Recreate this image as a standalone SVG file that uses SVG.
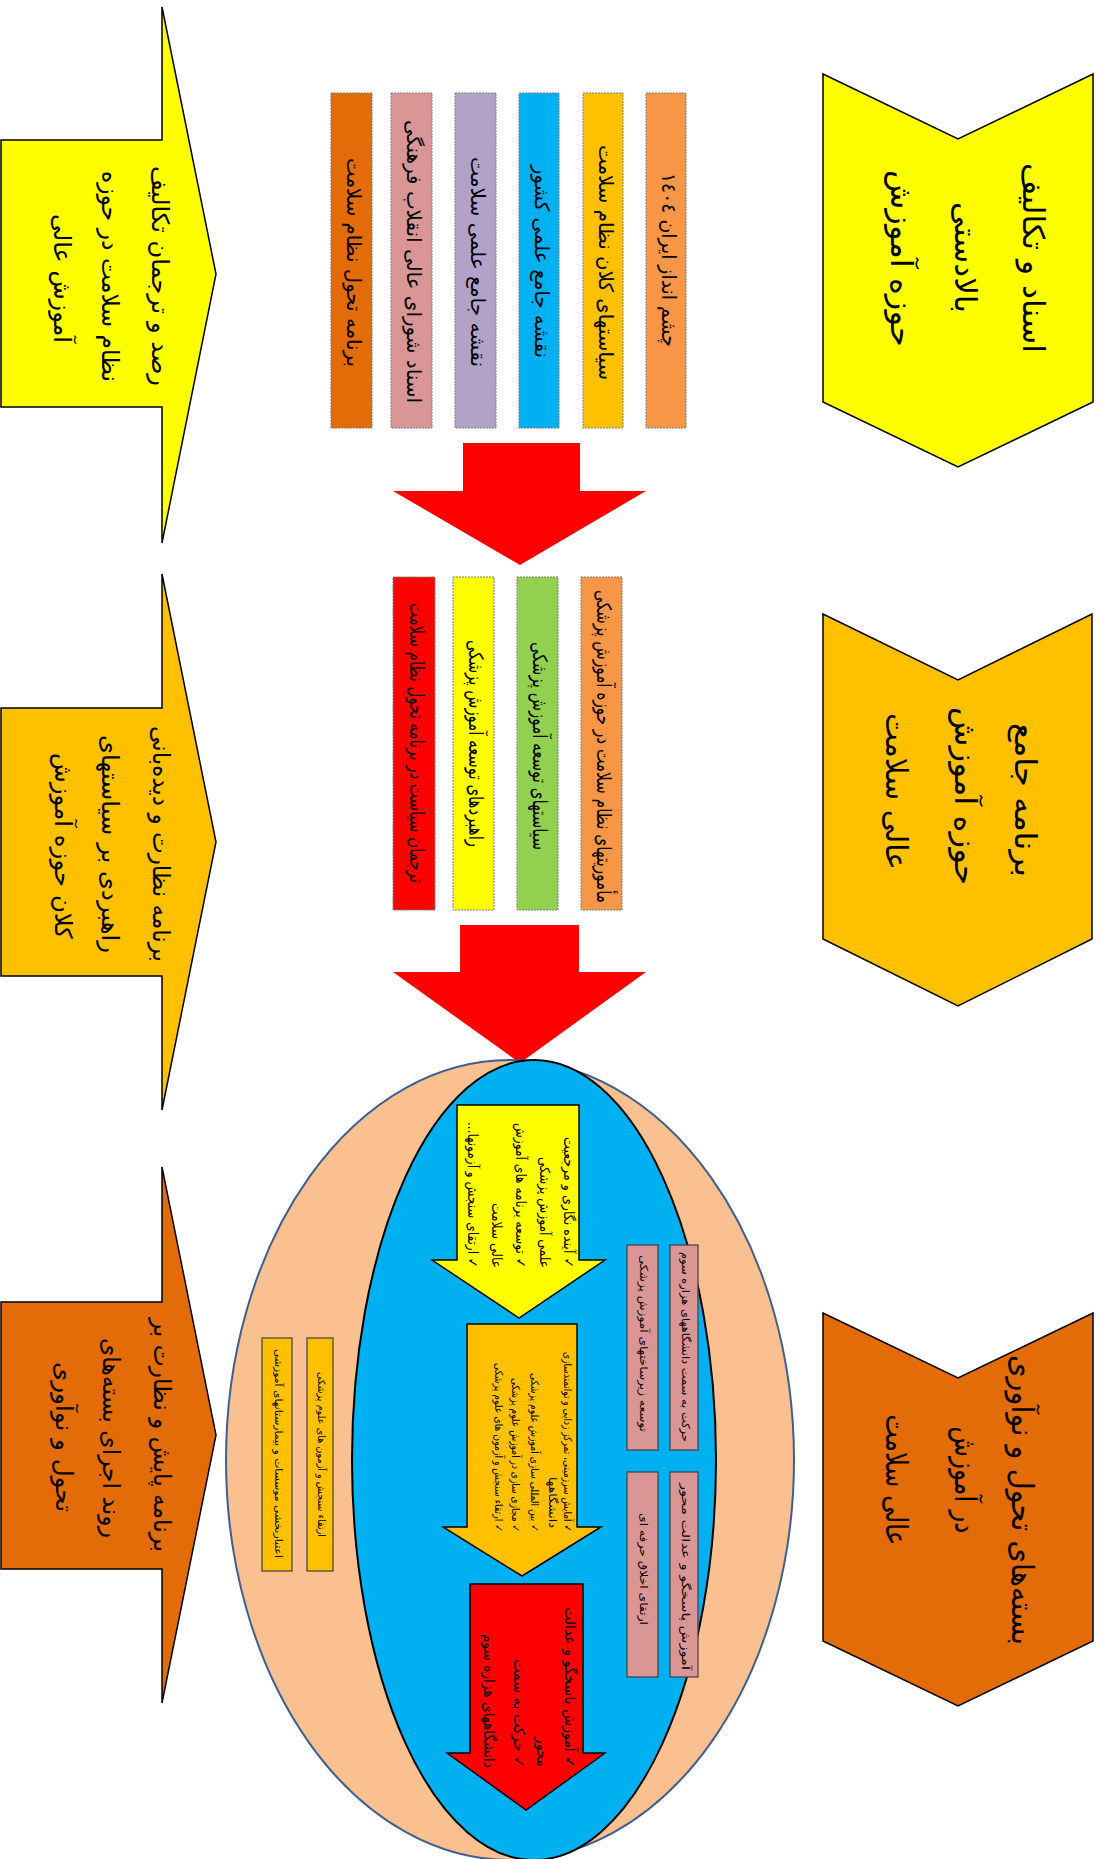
<svg xmlns="http://www.w3.org/2000/svg" width="1105" height="1859" viewBox="0 0 1105 1859">
<style>
.t{font-family:"DejaVu Sans","Noto Sans",sans-serif;fill:#000;}
.c{text-anchor:middle;}
.e{text-anchor:end;}
.sh{stroke:#000;stroke-width:1.5;}
.bx{stroke:#808080;stroke-width:1;stroke-dasharray:2 1;}
.pk{fill:#D99694;stroke:#404040;stroke-width:1.2;}
.am{fill:#FFC000;stroke:#404040;stroke-width:1.2;}
</style>
<rect width="1105" height="1859" fill="#fff"/>

<g id="chevron-1">
<polygon class="sh" fill="#FFFF00" points="823,74 958,139 1093,74 1093,402 958,467 823,402"/>
<text class="t c" font-size="30" x="1023.4" y="258" transform="rotate(90 1023.4 258)" textLength="190" lengthAdjust="spacingAndGlyphs">اسناد و تکالیف</text>
<text class="t c" font-size="30" x="955.4" y="257.5" transform="rotate(90 955.4 257.5)" textLength="111" lengthAdjust="spacingAndGlyphs">بالادستی</text>
<text class="t c" font-size="30" x="891.4" y="258.5" transform="rotate(90 891.4 258.5)" textLength="177" lengthAdjust="spacingAndGlyphs">حوزه آموزش</text>
</g>

<g id="chevron-2">
<polygon class="sh" fill="#FFC000" points="823,614 958,680 1092,614 1092,939 958,1006 823,939"/>
<text class="t c" font-size="30" x="1015.4" y="800" transform="rotate(90 1015.4 800)" textLength="154" lengthAdjust="spacingAndGlyphs">برنامه جامع</text>
<text class="t c" font-size="30" x="955.4" y="796" transform="rotate(90 955.4 796)" textLength="178" lengthAdjust="spacingAndGlyphs">حوزه آموزش</text>
<text class="t c" font-size="30" x="886.4" y="791.5" transform="rotate(90 886.4 791.5)" textLength="157" lengthAdjust="spacingAndGlyphs">عالی سلامت</text>
</g>

<g id="chevron-3">
<polygon class="sh" fill="#E36C09" points="823,1313 958,1378 1093,1313 1093,1641 958,1706 823,1641"/>
<text class="t c" font-size="30" x="1012.4" y="1500" transform="rotate(90 1012.4 1500)" textLength="290" lengthAdjust="spacingAndGlyphs">بسته‌های تحول و نوآوری</text>
<text class="t c" font-size="30" x="955.4" y="1480" transform="rotate(90 955.4 1480)" textLength="107" lengthAdjust="spacingAndGlyphs">در آموزش</text>
<text class="t c" font-size="30" x="886.4" y="1480" transform="rotate(90 886.4 1480)" textLength="131" lengthAdjust="spacingAndGlyphs">عالی سلامت</text>
</g>

<g id="left-arrow-1">
<polygon class="sh" fill="#FFFF00" points="1,140 162,140 162,7 216,274 162,543 162,407 1,407"/>
<text class="t c" font-size="24" x="151.7" y="276" transform="rotate(90 151.7 276)" textLength="220" lengthAdjust="spacingAndGlyphs">رصد و ترجمان تکالیف</text>
<text class="t c" font-size="24" x="101.7" y="276.5" transform="rotate(90 101.7 276.5)" textLength="211" lengthAdjust="spacingAndGlyphs">نظام سلامت در حوزه</text>
<text class="t c" font-size="24" x="53.7" y="278.5" transform="rotate(90 53.7 278.5)" textLength="129" lengthAdjust="spacingAndGlyphs">آموزش عالی</text>
</g>

<g id="left-arrow-2">
<polygon class="sh" fill="#FFC000" points="1,708 162,708 162,574 216,842 162,1110 162,976 1,976"/>
<text class="t c" font-size="24" x="152.7" y="844" transform="rotate(90 152.7 844)" textLength="236" lengthAdjust="spacingAndGlyphs">برنامه نظارت و دیده‌بانی</text>
<text class="t c" font-size="24" x="101.7" y="844" transform="rotate(90 101.7 844)" textLength="218" lengthAdjust="spacingAndGlyphs">راهبردی بر سیاستهای</text>
<text class="t c" font-size="24" x="54.7" y="846" transform="rotate(90 54.7 846)" textLength="186" lengthAdjust="spacingAndGlyphs">کلان حوزه آموزش</text>
</g>

<g id="left-arrow-3">
<polygon class="sh" fill="#E36C09" points="1,1302 162,1302 162,1167 216,1435 162,1703 162,1569 1,1569"/>
<text class="t c" font-size="24" x="153.7" y="1435" transform="rotate(90 153.7 1435)" textLength="234" lengthAdjust="spacingAndGlyphs">برنامه پایش و نظارت بر</text>
<text class="t c" font-size="24" x="102.7" y="1438" transform="rotate(90 102.7 1438)" textLength="200" lengthAdjust="spacingAndGlyphs">روند اجرای بسته‌های</text>
<text class="t c" font-size="24" x="55.7" y="1437" transform="rotate(90 55.7 1437)" textLength="150" lengthAdjust="spacingAndGlyphs">تحول و نوآوری</text>
</g>

<g id="top-box-1">
<rect class="bx" fill="#E36C09" x="331" y="93" width="41" height="335"/>
<text class="t c" font-size="20" x="347.1" y="262.5" transform="rotate(90 347.1 262.5)" textLength="209" lengthAdjust="spacingAndGlyphs">برنامه تحول نظام سلامت</text>
</g>
<g id="top-box-2">
<rect class="bx" fill="#D99694" x="391" y="93" width="41" height="335"/>
<text class="t c" font-size="20" x="407.1" y="261.5" transform="rotate(90 407.1 261.5)" textLength="283" lengthAdjust="spacingAndGlyphs">اسناد شورای عالی انقلاب فرهنگی</text>
</g>
<g id="top-box-3">
<rect class="bx" fill="#B2A2C7" x="455" y="93" width="41" height="335"/>
<text class="t c" font-size="20" x="471.1" y="262" transform="rotate(90 471.1 262)" textLength="210" lengthAdjust="spacingAndGlyphs">نقشه جامع علمی سلامت</text>
</g>
<g id="top-box-4">
<rect class="bx" fill="#00B0F0" x="519" y="93" width="40" height="335"/>
<text class="t c" font-size="20" x="534.6" y="261.5" transform="rotate(90 534.6 261.5)" textLength="193" lengthAdjust="spacingAndGlyphs">نقشه جامع علمی کشور</text>
</g>
<g id="top-box-5">
<rect class="bx" fill="#FFC000" x="583" y="93" width="40" height="335"/>
<text class="t c" font-size="20" x="598.6" y="262.5" transform="rotate(90 598.6 262.5)" textLength="235" lengthAdjust="spacingAndGlyphs">سیاستهای کلان نظام سلامت</text>
</g>
<g id="top-box-6">
<rect class="bx" fill="#F79646" x="646" y="93" width="40" height="335"/>
<text class="t c" font-size="20" x="661.6" y="260" transform="rotate(90 661.6 260)" textLength="174" lengthAdjust="spacingAndGlyphs">چشم انداز ایران ١٤٠٤</text>
</g>

<g id="mid-box-1">
<rect class="bx" fill="#FF0000" x="393" y="577" width="42" height="333"/>
<text class="t c" font-size="20" x="409.6" y="743" transform="rotate(90 409.6 743)" textLength="280" lengthAdjust="spacingAndGlyphs">ترجمان سیاست در برنامه تحول نظام سلامت</text>
</g>
<g id="mid-box-2">
<rect class="bx" fill="#FFFF00" x="453" y="577" width="41" height="333"/>
<text class="t c" font-size="20" x="469.1" y="743.5" transform="rotate(90 469.1 743.5)" textLength="207" lengthAdjust="spacingAndGlyphs">راهبردهای توسعه آموزش پزشکی</text>
</g>
<g id="mid-box-3">
<rect class="bx" fill="#92D050" x="517" y="577" width="41" height="333"/>
<text class="t c" font-size="20" x="533.1" y="746" transform="rotate(90 533.1 746)" textLength="208" lengthAdjust="spacingAndGlyphs">سیاستهای توسعه آموزش پزشکی</text>
</g>
<g id="mid-box-4">
<rect class="bx" fill="#F79646" x="581" y="577" width="41" height="333"/>
<text class="t c" font-size="20" x="597.1" y="746.5" transform="rotate(90 597.1 746.5)" textLength="313" lengthAdjust="spacingAndGlyphs">مأموریتهای نظام سلامت در حوزه آموزش پزشکی</text>
</g>

<g id="connectors">
<polygon fill="#FF0000" points="463,443 580,443 580,491 646,491 520,565 393,491 463,491"/>
<polygon fill="#FF0000" points="460,925 579,925 579,972 646,972 520,1063 393,972 460,972"/>
</g>

<g id="ellipse-outer">
<ellipse cx="510" cy="1460" rx="284" ry="400" fill="#FAC090" stroke="#3F5F8F" stroke-width="2"/>
</g>
<g id="ellipse-inner">
<ellipse cx="534" cy="1460" rx="182" ry="400" fill="#00B0F0" stroke="#000" stroke-width="2"/>
</g>

<g id="amber-box-1">
<rect class="am" x="307" y="1338" width="26" height="233"/>
<text class="t c" font-size="10" x="317.8" y="1454.5" transform="rotate(90 317.8 1454.5)" textLength="165" lengthAdjust="spacingAndGlyphs">ارتقاء سنجش و آزمون های علوم پزشکی</text>
</g>
<g id="amber-box-2">
<rect class="am" x="262" y="1338" width="30" height="233"/>
<text class="t c" font-size="10" x="274.8" y="1453.5" transform="rotate(90 274.8 1453.5)" textLength="209" lengthAdjust="spacingAndGlyphs">اعتباربخشی موسسات و بیمارستانهای آموزشی</text>
</g>

<g id="pink-box-1">
<rect class="pk" x="670" y="1245" width="28" height="205"/>
<text class="t c" font-size="11" x="681.6" y="1347" transform="rotate(90 681.6 1347)" textLength="190" lengthAdjust="spacingAndGlyphs">حرکت به سمت دانشگاههای هزاره سوم</text>
</g>
<g id="pink-box-2">
<rect class="pk" x="627" y="1245" width="31" height="205"/>
<text class="t c" font-size="11" x="639.6" y="1343.5" transform="rotate(90 639.6 1343.5)" textLength="177" lengthAdjust="spacingAndGlyphs">توسعه زیرساختهای آموزش پزشکی</text>
</g>
<g id="pink-box-3">
<rect class="pk" x="670" y="1472" width="28" height="205"/>
<text class="t c" font-size="11" x="681.6" y="1576.5" transform="rotate(90 681.6 1576.5)" textLength="187" lengthAdjust="spacingAndGlyphs">آموزش پاسخگو و عدالت محور</text>
</g>
<g id="pink-box-4">
<rect class="pk" x="627" y="1472" width="31" height="205"/>
<text class="t c" font-size="11" x="639.6" y="1569" transform="rotate(90 639.6 1569)" textLength="112" lengthAdjust="spacingAndGlyphs">ارتقای اخلاق حرفه ای</text>
</g>

<g id="inner-arrow-yellow">
<polygon class="sh" fill="#FFFF00" points="457,1105 579,1105 579,1260 605,1260 519,1318 432,1260 457,1260"/>
<text class="t e" font-size="14" x="563.9" y="1268" transform="rotate(90 563.9 1268)" textLength="131" lengthAdjust="spacingAndGlyphs">&#x200F;✓ آینده نگاری و مرجعیت&#x200F;</text>
<text class="t e" font-size="14" x="539.9" y="1268" transform="rotate(90 539.9 1268)" textLength="111" lengthAdjust="spacingAndGlyphs">علمی آموزش پزشکی</text>
<text class="t e" font-size="14" x="515.9" y="1268" transform="rotate(90 515.9 1268)" textLength="145" lengthAdjust="spacingAndGlyphs">&#x200F;✓ توسعه برنامه های آموزش&#x200F;</text>
<text class="t e" font-size="14" x="491.9" y="1268" transform="rotate(90 491.9 1268)" textLength="65" lengthAdjust="spacingAndGlyphs">عالی سلامت</text>
<text class="t e" font-size="14" x="467.9" y="1268" transform="rotate(90 467.9 1268)" textLength="146" lengthAdjust="spacingAndGlyphs">&#x200F;✓ ارتقای سنجش و آزمونها...&#x200F;</text>
</g>

<g id="inner-arrow-orange">
<polygon class="sh" fill="#FFC000" points="467,1324 577,1324 577,1527 601,1527 522,1576 443,1527 467,1527"/>
<text class="t e" font-size="11" x="563.6" y="1532" transform="rotate(90 563.6 1532)" textLength="180" lengthAdjust="spacingAndGlyphs">&#x200F;✓ آمایش سرزمینی، تمرکز زدایی و توانمندسازی&#x200F;</text>
<text class="t e" font-size="11" x="548.6" y="1528" transform="rotate(90 548.6 1528)" textLength="51" lengthAdjust="spacingAndGlyphs">دانشگاهها</text>
<text class="t e" font-size="11" x="530.6" y="1532" transform="rotate(90 530.6 1532)" textLength="159" lengthAdjust="spacingAndGlyphs">&#x200F;✓ بین المللی سازی آموزش علوم پزشکی&#x200F;</text>
<text class="t e" font-size="11" x="511.6" y="1532" transform="rotate(90 511.6 1532)" textLength="154" lengthAdjust="spacingAndGlyphs">&#x200F;✓ مجازی سازی در آموزش علوم پزشکی&#x200F;</text>
<text class="t e" font-size="11" x="494.6" y="1532" transform="rotate(90 494.6 1532)" textLength="169" lengthAdjust="spacingAndGlyphs">&#x200F;✓ ارتقاء سنجش و آزمون های علوم پزشکی&#x200F;</text>
</g>

<g id="inner-arrow-red">
<polygon class="sh" fill="#FF0000" points="470,1584 583,1584 583,1753 605,1753 526,1810 447,1753 470,1753"/>
<text class="t e" font-size="15" x="564.7" y="1768" transform="rotate(90 564.7 1768)" textLength="161" lengthAdjust="spacingAndGlyphs">&#x200F;✓ آموزش پاسخگو و عدالت&#x200F;</text>
<text class="t e" font-size="15" x="536.7" y="1767" transform="rotate(90 536.7 1767)" textLength="30" lengthAdjust="spacingAndGlyphs">محور</text>
<text class="t e" font-size="15" x="513.7" y="1768" transform="rotate(90 513.7 1768)" textLength="109" lengthAdjust="spacingAndGlyphs">&#x200F;✓ حرکت به سمت&#x200F;</text>
<text class="t e" font-size="15" x="483.7" y="1768" transform="rotate(90 483.7 1768)" textLength="134" lengthAdjust="spacingAndGlyphs">دانشگاههای هزاره سوم</text>
</g>
</svg>
